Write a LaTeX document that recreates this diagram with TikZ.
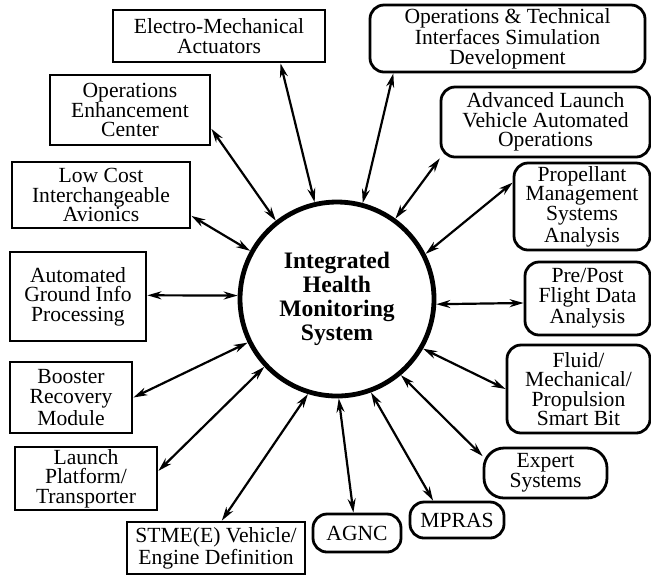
\documentclass[tikz,border=0pt]{standalone}
\usepackage{fontspec}
\setmainfont{Liberation Serif}
\usetikzlibrary{arrows.meta}

\tikzset{
  box/.style={draw, line width=1.4pt, inner sep=0pt, align=center,
    font=\fontsize{10.8}{9.8}\selectfont},
  rbox/.style={box, rounded corners=7pt},
  link/.style={{Stealth[length=7pt,width=4pt]}-{Stealth[length=7pt,width=4pt]}, line width=1.1pt}
}

\begin{document}
\begin{tikzpicture}[x=0.5pt, y=-0.5pt]
			\useasboundingbox (0,0) rectangle (651,575);
			% centre
			\node[circle, draw, line width=2.4pt, minimum size=97pt, inner sep=0pt, align=center,
				font=\fontsize{11.8}{12}\selectfont\bfseries] (hms) at (337,299)
				{\raisebox{-3pt}{\parbox{60pt}{\centering Integrated\\Health\\Monitoring\\System}}};
			% left side, square boxes
			\node[box, minimum width=106pt, minimum height=26pt] (ema) at (219,36) {Electro-Mechanical\\Actuators};
			\node[box, minimum width=80pt, minimum height=35pt] (oec) at (130,110) {Operations\\Enhancement\\Center};
			\node[box, minimum width=89pt, minimum height=33pt] (lcia) at (101,195) {Low Cost\\Interchangeable\\Avionics};
			\node[box, minimum width=68pt, minimum height=44.5pt] (agip) at (78,296.5) {Automated\\Ground Info\\Processing};
			\node[box, minimum width=61pt, minimum height=35.5pt] (brm) at (71,397.5) {Booster\\Recovery\\Module};
			\node[box, minimum width=71pt, minimum height=31.5pt] (lpt) at (86,478.5) {Launch\\Platform/\\Transporter};
			\node[box, minimum width=89pt, minimum height=26pt] (stme) at (216,548) {STME(E) Vehicle/\\Engine Definition};
			% right side, rounded boxes
			\node[rbox, minimum width=44pt, minimum height=19pt] (agnc) at (357,533) {AGNC};
			\node[rbox, minimum width=47pt, minimum height=18pt] (mpras) at (457,520) {MPRAS};
			\node[rbox, rounded corners=10pt, minimum width=61.5pt, minimum height=25pt] (expert) at (545.5,473) {Expert\\Systems};
			\node[rbox, minimum width=71.5pt, minimum height=44pt] (fluid) at (578.5,389) {\raisebox{-4pt}{\parbox{70pt}{\centering Fluid/\\Mechanical/\\Propulsion\\Smart Bit}}};
			\node[rbox, minimum width=62.5pt, minimum height=36.5pt] (prepost) at (587.5,298.5) {Pre/Post\\Flight Data\\Analysis};
			\node[rbox, minimum width=68pt, minimum height=43.5pt] (prop) at (582,206.5) {Propellant\\Management\\Systems\\Analysis};
			\node[rbox, minimum width=104.5pt, minimum height=35pt] (alvao) at (545.5,122) {Advanced Launch\\Vehicle Automated\\Operations};
			\node[rbox, minimum width=137.5pt, minimum height=33.5pt] (otisd) at (507.5,38.5) {Operations \& Technical\\Interfaces Simulation\\Development};
			% links
			\foreach \n/\a/\b in {ema/103.6/-24.6, oec/128/-13.4, lcia/151.5/-13.6, agip/178/1,
				brm/206.8/0, lpt/223.9/6.7, stme/253.8/78, agnc/271.6/100.8, mpras/290/141,
				expert/310.2/165, fluid/330.5/180, prepost/357.7/184, prop/27.8/161.2,
				alvao/54.4/199.4, otisd/75.3/197.6}{
				\draw[link] (hms.\a) -- (\n.\b);
			}
		\end{tikzpicture}
\end{document}
